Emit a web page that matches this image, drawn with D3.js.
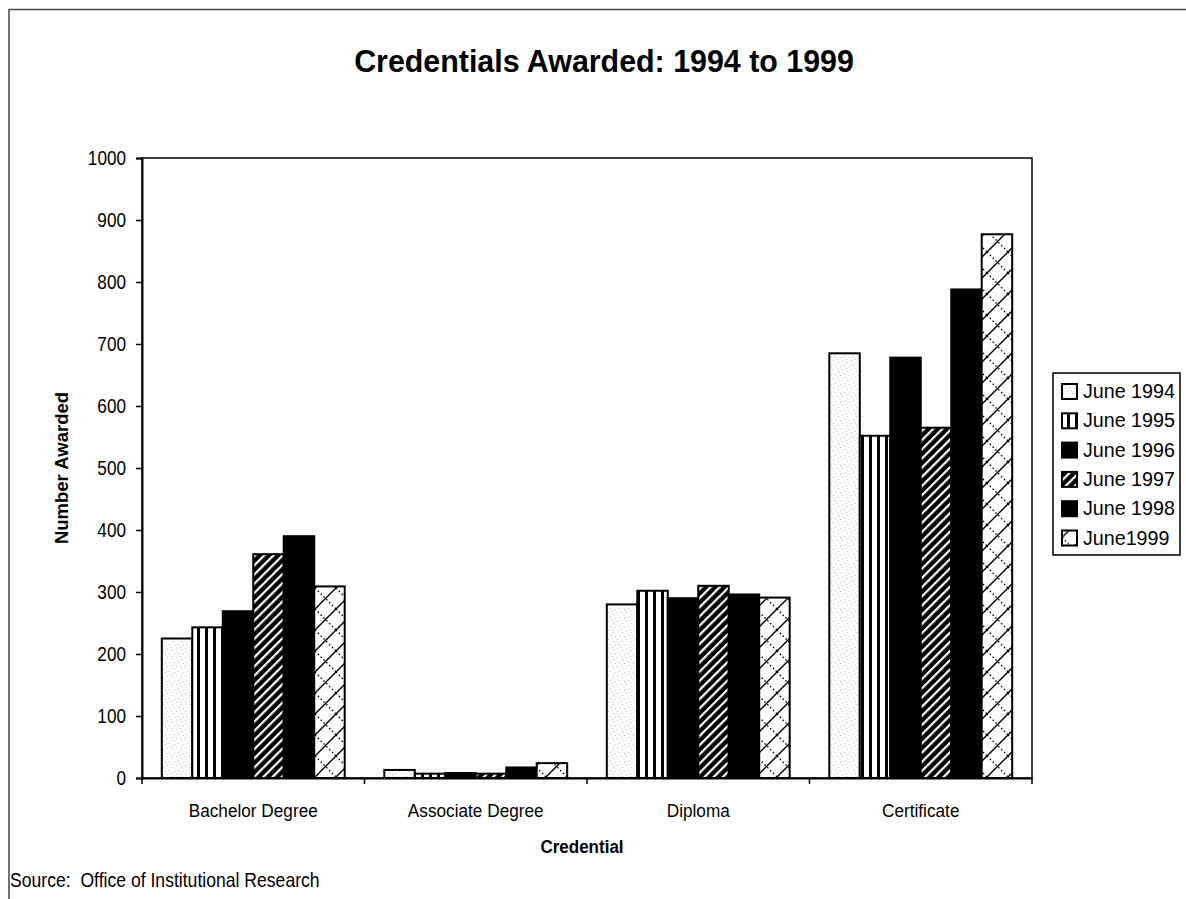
<!DOCTYPE html>
<html>
<head>
<meta charset="utf-8">
<script src="https://cdn.jsdelivr.net/npm/d3@7"></script>
<style>
  body { margin: 0; background: #fff; }
  svg { display: block; }
</style>
</head>
<body>
<svg id="chart" width="1186" height="899"></svg>
<script>
// Credentials awarded by type, June 1994 through June 1999
const categories = ["Bachelor Degree", "Associate Degree", "Diploma", "Certificate"];
const seriesNames = ["June 1994", "June 1995", "June 1996", "June 1997", "June 1998", "June1999"];
const june1994 = [225, 13, 280, 685];
const june1995 = [243, 7, 302, 552];
const june1996 = [269, 8, 290, 678];
const june1997 = [361, 7, 310, 565];
const june1998 = [390, 17, 296, 788];
const june1999 = [309, 24, 291, 877];
const yTicks = [0, 100, 200, 300, 400, 500, 600, 700, 800, 900, 1000];

const seriesValues = [june1994, june1995, june1996, june1997, june1998, june1999];
const fills = ["url(#p94)", "url(#p95)", "#000", "url(#p97)", "#000", "url(#p99)"];

const FONT = '"Liberation Sans",Arial,Helvetica,sans-serif';
const svg = d3.select("#chart");

// Place a text element at (x, y) with a horizontal condensing factor
function placeText(sel, x, y, sx) {
  return sel.attr("x", 0).attr("y", 0)
    .attr("transform", `translate(${x},${y}) scale(${sx},1)`);
}

// ---- fill patterns ----
const defs = svg.append("defs");

// light stipple
const p94 = defs.append("pattern").attr("id", "p94").attr("patternUnits", "userSpaceOnUse")
  .attr("width", 9).attr("height", 9);
p94.append("rect").attr("width", 9).attr("height", 9).attr("fill", "#fbfbfb");
[[1, 2], [5, 0], [7, 5], [3, 6], [0, 8]].forEach(([a, b]) =>
  p94.append("rect").attr("x", a).attr("y", b).attr("width", 1).attr("height", 1).attr("fill", "#c8c8c8"));

// vertical stripes
const p95 = defs.append("pattern").attr("id", "p95").attr("patternUnits", "userSpaceOnUse")
  .attr("width", 8).attr("height", 8);
p95.append("rect").attr("width", 8).attr("height", 8).attr("fill", "#fff");
p95.append("rect").attr("x", 5).attr("width", 3).attr("height", 8).attr("fill", "#000");

// black with white diagonal stripes
const p97 = defs.append("pattern").attr("id", "p97").attr("patternUnits", "userSpaceOnUse")
  .attr("width", 6.5).attr("height", 6.5).attr("patternTransform", "rotate(45)");
p97.append("rect").attr("width", 6.5).attr("height", 6.5).attr("fill", "#000");
p97.append("rect").attr("width", 2.2).attr("height", 6.5).attr("fill", "#fff");

// white lattice: solid "/" with dotted "\"
const p99 = defs.append("pattern").attr("id", "p99").attr("patternUnits", "userSpaceOnUse")
  .attr("width", 21).attr("height", 21);
p99.append("rect").attr("width", 21).attr("height", 21).attr("fill", "#fff");
p99.append("path").attr("d", "M-2,23L23,-2").attr("stroke", "#000").attr("stroke-width", 1.4);
p99.append("path").attr("d", "M0,0L21,21").attr("stroke", "#000").attr("stroke-width", 1.4)
  .attr("stroke-dasharray", "1.5,2.5");

// ---- outer frame ----
svg.append("path").attr("d", "M9,899V9.5H1186").attr("fill", "none")
  .attr("stroke", "#444").attr("stroke-width", 1.5);

// ---- scales ----
const plot = { left: 142, right: 1032, top: 158, bottom: 778 };
const x = d3.scaleBand().domain(categories).range([plot.left, plot.right]).paddingInner(0).paddingOuter(0);
const xs = d3.scaleBand().domain(d3.range(seriesNames.length)).range([0, x.bandwidth()])
  .paddingInner(0).paddingOuter(0.65);
const y = d3.scaleLinear().domain([0, 1000]).range([plot.bottom, plot.top]);

// plot area frame
svg.append("rect").attr("x", plot.left).attr("y", plot.top)
  .attr("width", plot.right - plot.left).attr("height", plot.bottom - plot.top)
  .attr("fill", "none").attr("stroke", "#000").attr("stroke-width", 1.5);

// ---- bars ----
const groups = svg.append("g").selectAll("g").data(seriesValues).join("g")
  .attr("fill", (d, i) => fills[i]);
groups.selectAll("rect")
  .data((vals, si) => vals.map((v, ci) => ({ v, ci, si })))
  .join("rect")
  .attr("x", d => x(categories[d.ci]) + xs(d.si))
  .attr("y", d => y(d.v))
  .attr("width", xs.bandwidth())
  .attr("height", d => y(0) - y(d.v))
  .attr("stroke", "#000").attr("stroke-width", 2);

// ---- axes ----
const yAxis = svg.append("g").attr("transform", `translate(${plot.left},0)`)
  .call(d3.axisLeft(y).tickValues(yTicks).tickSize(6).tickPadding(10).tickFormat(d3.format("d")));
yAxis.select(".domain").attr("stroke-width", 2);
yAxis.selectAll("line").attr("stroke-width", 1.5);
yAxis.selectAll("text").attr("font-family", FONT).attr("font-size", 19.5).attr("fill", "#000")
  .each(function () { placeText(d3.select(this), -16, 0, 0.88); });

const xAxis = svg.append("g").attr("transform", `translate(0,${plot.bottom})`)
  .call(d3.axisBottom(x).tickSize(0).tickPadding(0));
xAxis.select(".domain").attr("stroke-width", 2);
xAxis.selectAll("text").attr("font-family", FONT).attr("font-size", 18.5).attr("fill", "#000")
  .attr("dy", 0)
  .each(function () { placeText(d3.select(this), 0, 39, 0.93); });
// tick marks at category boundaries
const bounds = categories.map(c => x(c)).concat([x.range()[1]]);
svg.append("g").selectAll("line").data(bounds).join("line")
  .attr("x1", d => d).attr("x2", d => d).attr("y1", plot.bottom).attr("y2", plot.bottom + 6)
  .attr("stroke", "#000").attr("stroke-width", 1.5);

// ---- titles ----
placeText(svg.append("text"), 604, 72, 0.98).attr("text-anchor", "middle")
  .attr("font-family", FONT).attr("font-weight", "bold").attr("font-size", 31)
  .text("Credentials Awarded: 1994 to 1999");

placeText(svg.append("text"), 582, 853, 0.92).attr("text-anchor", "middle")
  .attr("font-family", FONT).attr("font-weight", "bold").attr("font-size", 18.5)
  .text("Credential");

svg.append("text").attr("transform", "translate(68,468) rotate(-90)").attr("text-anchor", "middle")
  .attr("font-family", FONT).attr("font-weight", "bold").attr("font-size", 18.5)
  .text("Number Awarded");

placeText(svg.append("text"), 10, 887, 0.88)
  .attr("font-family", FONT).attr("font-size", 20)
  .style("white-space", "pre")
  .text("Source:  Office of Institutional Research");

// ---- legend ----
const legend = svg.append("g").attr("transform", "translate(1053,373)");
legend.append("rect").attr("width", 127).attr("height", 182)
  .attr("fill", "#fff").attr("stroke", "#000").attr("stroke-width", 1.5);
const items = legend.selectAll("g.item").data(seriesNames).join("g").attr("class", "item")
  .attr("transform", (d, i) => `translate(9,${18 + i * 29.3})`);
items.append("rect").attr("x", 0).attr("y", -7).attr("width", 15).attr("height", 15)
  .attr("fill", (d, i) => fills[i]).attr("stroke", "#000").attr("stroke-width", 2);
items.append("text")
  .attr("font-family", FONT).attr("font-size", 20.5)
  .each(function () { placeText(d3.select(this), 21, 7, 0.96); })
  .text(d => d);
</script>
</body>
</html>
